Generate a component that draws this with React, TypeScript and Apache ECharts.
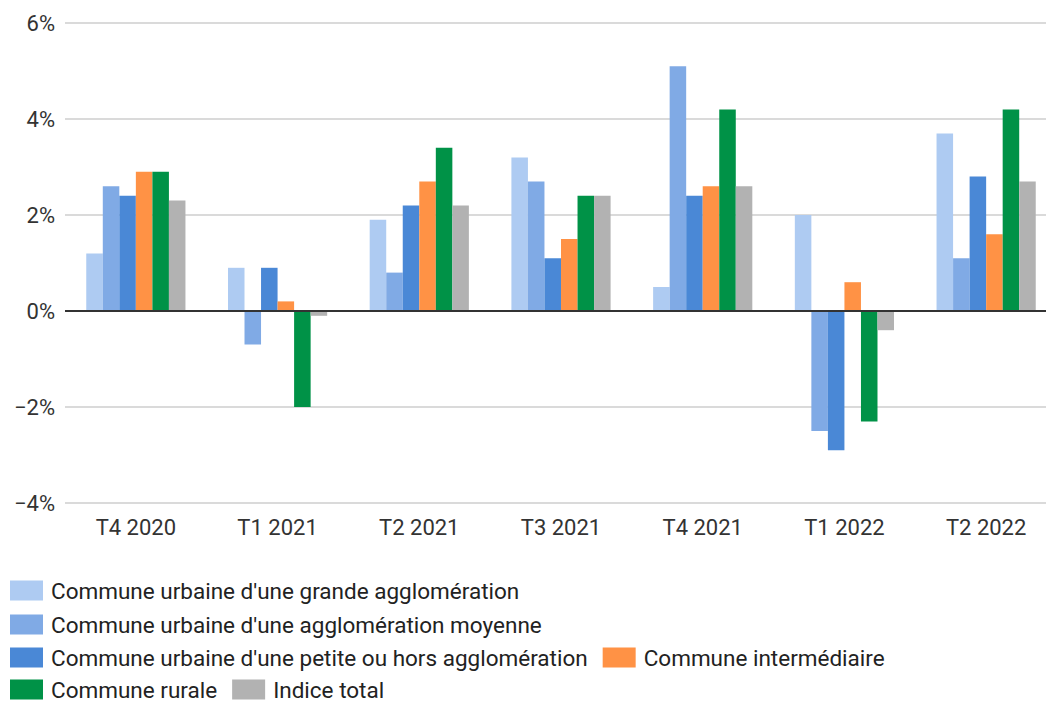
import React, { useEffect, useRef } from "react";
import * as echarts from "echarts";

const categories = ["T4 2020", "T1 2021", "T2 2021", "T3 2021", "T4 2021", "T1 2022", "T2 2022"];

const seriesNames = [
  "Commune urbaine d'une grande agglomération",
  "Commune urbaine d'une agglomération moyenne",
  "Commune urbaine d'une petite ou hors agglomération",
  "Commune intermédiaire",
  "Commune rurale",
  "Indice total",
];

const grandeAgglo = [1.2, 0.9, 1.9, 3.2, 0.5, 2.0, 3.7];
const aggloMoyenne = [2.6, -0.7, 0.8, 2.7, 5.1, -2.5, 1.1];
const petiteAgglo = [2.4, 0.9, 2.2, 1.1, 2.4, -2.9, 2.8];
const intermediaire = [2.9, 0.2, 2.7, 1.5, 2.6, 0.6, 1.6];
const rurale = [2.9, -2.0, 3.4, 2.4, 4.2, -2.3, 4.2];
const indiceTotal = [2.3, -0.1, 2.2, 2.4, 2.6, -0.4, 2.7];

const seriesValues = [grandeAgglo, aggloMoyenne, petiteAgglo, intermediaire, rurale, indiceTotal];

const colors = ["#aecbf2", "#80aae5", "#4a88d6", "#ff9245", "#009247", "#b2b2b2"];

const yTicks = { min: -4, max: 6, interval: 2 };

const FONT = "Roboto, 'Noto Sans', sans-serif";

// the plot area runs slightly past the right edge of the visible frame
const CANVAS_W = 1057;
const FRAME_W = 1046;
const FRAME_H = 702;

export default function App() {
  const ref = useRef<HTMLDivElement>(null);

  useEffect(() => {
    if (!ref.current) return;
    const chart = echarts.init(ref.current, null, { renderer: "svg" });

    // legend rows, laid out one legend component per line
    const legendRows: number[][] = [[0], [1], [2, 3], [4, 5]];
    const legendCenters = [589, 623, 656, 688];

    chart.setOption({
      animation: false,
      color: colors,
      textStyle: { fontFamily: FONT },
      grid: { left: 65, top: 23, bottom: 199, right: 0, containLabel: false },
      xAxis: {
        type: "category",
        data: categories,
        axisLine: { show: false },
        axisTick: { show: false },
        axisLabel: { color: "#333", fontSize: 22, fontFamily: FONT, margin: 13 },
      },
      yAxis: {
        type: "value",
        min: yTicks.min,
        max: yTicks.max,
        interval: yTicks.interval,
        axisLine: { show: false },
        axisTick: { show: false },
        splitLine: { lineStyle: { color: "#dadada", width: 2 } },
        axisLabel: {
          color: "#333",
          fontSize: 22,
          fontFamily: FONT,
          margin: 10,
          formatter: (v: number) => `${v}%`.replace("-", "\u2212"),
        },
      },
      legend: legendRows.map((row, i) => ({
        data: row.map((k) => seriesNames[k]),
        left: 10,
        top: legendCenters[i] - 10,
        padding: 0,
        orient: "horizontal",
        itemWidth: 33,
        itemHeight: 20,
        itemGap: 15,
        icon: "rect",
        selectedMode: false,
        textStyle: {
          color: "#222",
          fontSize: 22.5,
          lineHeight: 20,
          fontFamily: FONT,
          padding: [0, 0, 0, 3],
        },
      })),
      series: seriesNames.map((name, i) => ({
        name,
        type: "bar",
        data: seriesValues[i],
        barGap: "0%",
        barCategoryGap: "30%",
        itemStyle: { color: colors[i] },
        ...(i === 0
          ? {
              markLine: {
                silent: true,
                symbol: "none",
                label: { show: false },
                lineStyle: { color: "#333", width: 2, type: "solid" },
                data: [{ yAxis: 0 }],
              },
            }
          : {}),
      })),
    });

    return () => chart.dispose();
  }, []);

  return (
    <div
      style={{
        position: "absolute",
        left: 0,
        top: 0,
        width: FRAME_W,
        height: FRAME_H,
        overflow: "hidden",
        background: "#fff",
      }}
    >
      <div ref={ref} style={{ width: CANVAS_W, height: FRAME_H }} />
    </div>
  );
}
